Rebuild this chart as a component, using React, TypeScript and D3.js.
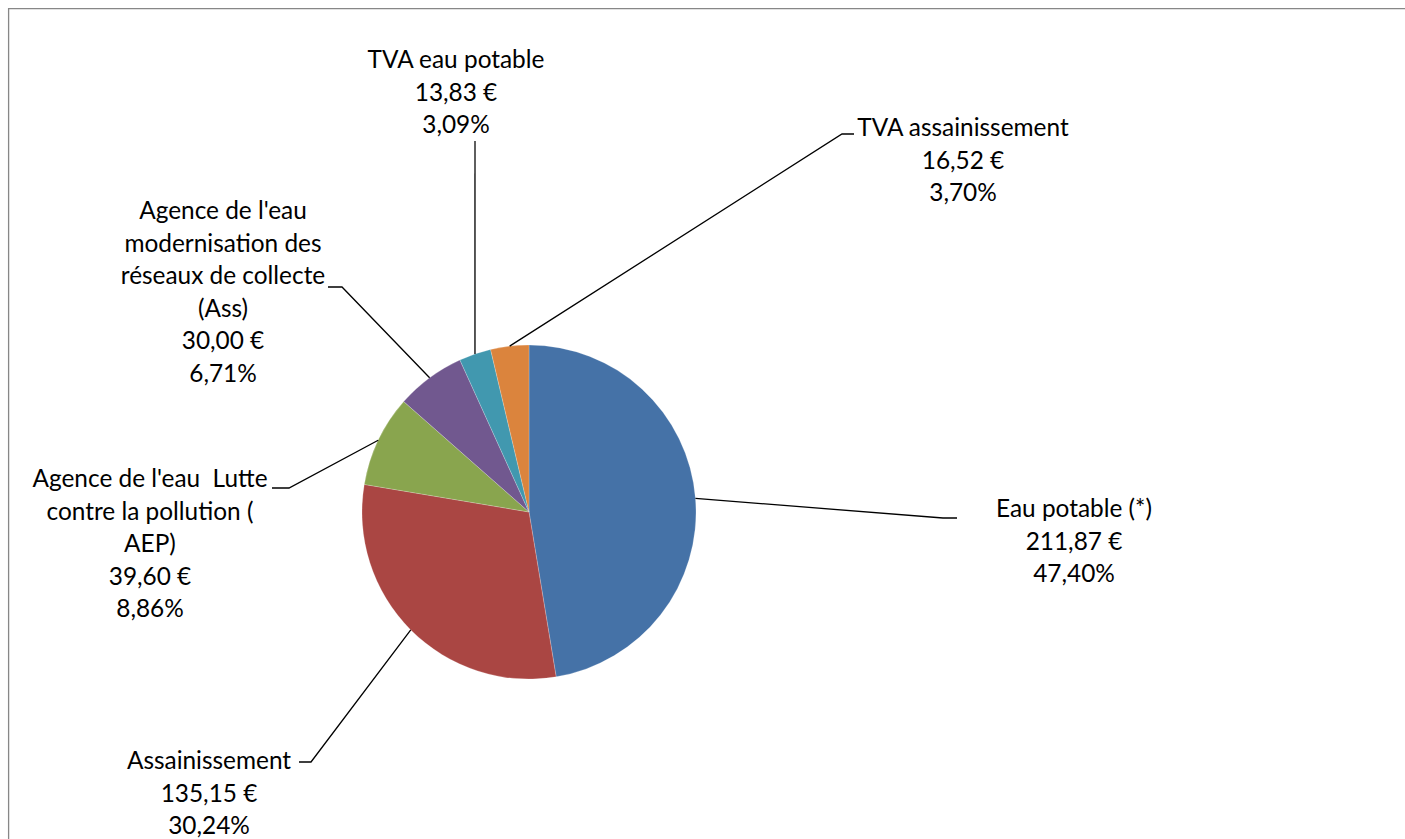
import React from "react";
import * as d3 from "d3";

const categories = [
  "Eau potable (*)",
  "Assainissement",
  "Agence de l'eau  Lutte contre la pollution ( AEP)",
  "Agence de l'eau modernisation des réseaux de collecte (Ass)",
  "TVA eau potable",
  "TVA assainissement",
];
const values = [211.87, 135.15, 39.6, 30.0, 13.83, 16.52];
const labelLines = [
  ["Eau potable (*)"],
  ["Assainissement"],
  ["Agence de l'eau  Lutte", "contre la pollution (", "AEP)"],
  ["Agence de l'eau", "modernisation des", "réseaux de collecte", "(Ass)"],
  ["TVA eau potable"],
  ["TVA assainissement"],
];
const colors = ["#4572A7", "#AA4643", "#89A54E", "#71588F", "#4198AF", "#DB843D"];

// label layout (page coordinates): text center x, first baseline y, elbow point, end of horizontal
const layout = [
  { cx: 1074, by: 517, elbow: [943, 518], end: [957, 518] },
  { cx: 209, by: 769, elbow: [311, 762], end: [299, 762] },
  { cx: 150, by: 487, elbow: [289, 488], end: [272, 488] },
  { cx: 223, by: 219, elbow: [342, 287], end: [328, 287] },
  { cx: 456, by: 68, elbow: [475, 141], end: [475, 141] },
  { cx: 963, by: 136, elbow: [842, 134], end: [854, 134] },
];

const W = 1405;
const H = 839;
const CX = 529;
const CY = 512;
const R = 167;
const LH = 32.6;

const fmtNum = (v: number) => v.toFixed(2).replace(".", ",");

export default function App() {
  const total = d3.sum(values);
  const pie = d3
    .pie<number>()
    .sort(null)
    .value((d) => d)(values);
  const arc = d3.arc<d3.PieArcDatum<number>>().innerRadius(0).outerRadius(R);
  const edge = d3.arc<d3.PieArcDatum<number>>().innerRadius(R).outerRadius(R);

  return (
    <svg
      width={W}
      height={H}
      style={{ display: "block", position: "fixed", left: 0, top: 0 }}
      fontFamily="Lato, 'Open Sans', sans-serif"
    >
      <rect x={0} y={0} width={W} height={H} fill="#fff" />
      <path d={`M8.6,${H + 20}V8.6H${W + 20}`} fill="none" stroke="#878787" strokeWidth={1.3} />
      <g transform={`translate(${CX},${CY})`}>
        {pie.map((p, i) => (
          <path key={categories[i]} d={arc(p) || ""} fill={colors[i]} stroke="#ffffff" strokeOpacity={0.35} strokeWidth={0.6} />
        ))}
      </g>
      {pie.map((p, i) => {
        const [ex, ey] = edge.centroid(p);
        const L = layout[i];
        const sx = CX + ex;
        const sy = CY + ey;
        const pts = `${sx},${sy} ${L.elbow[0]},${L.elbow[1]} ${L.end[0]},${L.end[1]}`;
        const lines = [
          ...labelLines[i],
          `${fmtNum(values[i])} €`,
          `${fmtNum((values[i] / total) * 100)}%`,
        ];
        return (
          <g key={"l" + i}>
            <polyline points={pts} fill="none" stroke="#000" strokeWidth={1.3} />
            <text textAnchor="middle" fontSize={24.4} fill="#000">
              {lines.map((t, k) => (
                <tspan key={k} x={L.cx} y={L.by + k * LH} style={{ whiteSpace: "pre" }}>
                  {t}
                </tspan>
              ))}
            </text>
          </g>
        );
      })}
    </svg>
  );
}
